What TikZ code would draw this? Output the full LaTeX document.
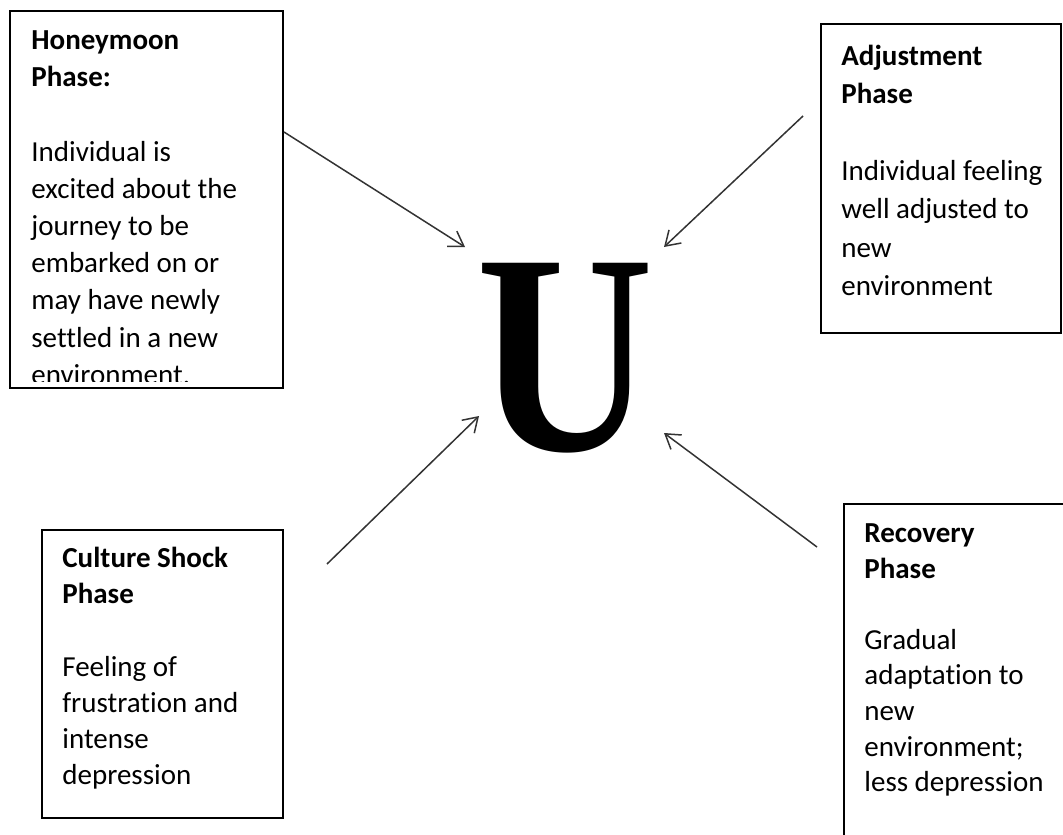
\documentclass[tikz,border=0pt]{standalone}
\usepackage{fontspec}
\usepackage{graphicx}
\setmainfont[Ligatures=NoCommon]{Carlito}
\newfontfamily\bigserif{Liberation Serif}
\usetikzlibrary{arrows.meta}
\begin{document}
\begin{tikzpicture}[x=0.5pt,y=-0.5pt,
    phasebox/.style={draw=black,line width=1pt,inner sep=0pt},
    phasetext/.style={anchor=north west,inner sep=0pt,align=left,font=\fontsize{14.5}{18.25}\selectfont},
    toU/.style={draw=black!80,line width=0.75pt,-{Straight Barb[length=7pt,width=9pt]}}]
  \useasboundingbox (0,0) rectangle (1063,834);
  % the four phase boxes
  \node[phasebox,minimum width=136.5pt,minimum height=188.5pt] (honey) at (146.5,199.5) {};
  \node[phasebox,minimum width=120pt,minimum height=154.5pt] (adjust) at (941,178.5) {};
  \node[phasebox,minimum width=120.5pt,minimum height=144pt] (shock) at (162.5,674) {};
  \node[phasebox,minimum width=118pt,minimum height=178pt] (recover) at (962,682) {};
  % texts
  \begin{scope}
    \clip (honey.north west) rectangle ([shift={(0,-8)}]honey.south east);
    \node[phasetext,font=\fontsize{14.5}{18.6}\selectfont] (honey-txt) at ([shift={(22,13)}]honey.north west)
      {\strut\textbf{Honeymoon}\\\textbf{Phase:}\\[18.6pt]Individual is\\excited about the\\journey to be\\embarked on or\\may have newly\\settled in a new\\environment.};
  \end{scope}
  \node[phasetext,font=\fontsize{14.5}{19.2}\selectfont] (adjust-txt) at ([shift={(21,15)}]adjust.north west)
    {\strut\textbf{Adjustment}\\\textbf{Phase}\\[19.2pt]Individual feeling\\well adjusted to\\new\\environment};
  \node[phasetext,font=\fontsize{14.5}{18.1}\selectfont] (shock-txt) at ([shift={(21,12.7)}]shock.north west)
    {\strut\textbf{Culture Shock}\\\textbf{Phase}\\[18.1pt]Feeling of\\frustration and\\intense\\depression};
  \node[phasetext,font=\fontsize{14.5}{17.8}\selectfont] (recover-txt) at ([shift={(21,14.1)}]recover.north west)
    {\strut\textbf{Recovery}\\\textbf{Phase}\\[17.8pt]Gradual\\adaptation to\\new\\environment;\\less depression};
  % the big U
  \node[inner sep=0pt,font=\bigserif\bfseries\fontsize{143}{143}\selectfont] (U) at (565.5,358.5) {\scalebox{0.86}[1]{U}};
  % arrows into the U
  \coordinate (honey-tail) at (284,132);
  \coordinate (honey-tip) at (465,247);
  \coordinate (adjust-tail) at (803,116);
  \coordinate (adjust-tip) at (664,247);
  \coordinate (shock-tail) at (327,564);
  \coordinate (shock-tip) at (479,416);
  \coordinate (recover-tail) at (817,547);
  \coordinate (recover-tip) at (664,433);
  \draw[toU] (honey-tail) -- (honey-tip);
  \draw[toU] (adjust-tail) -- (adjust-tip);
  \draw[toU] (shock-tail) -- (shock-tip);
  \draw[toU] (recover-tail) -- (recover-tip);
\end{tikzpicture}
\end{document}
